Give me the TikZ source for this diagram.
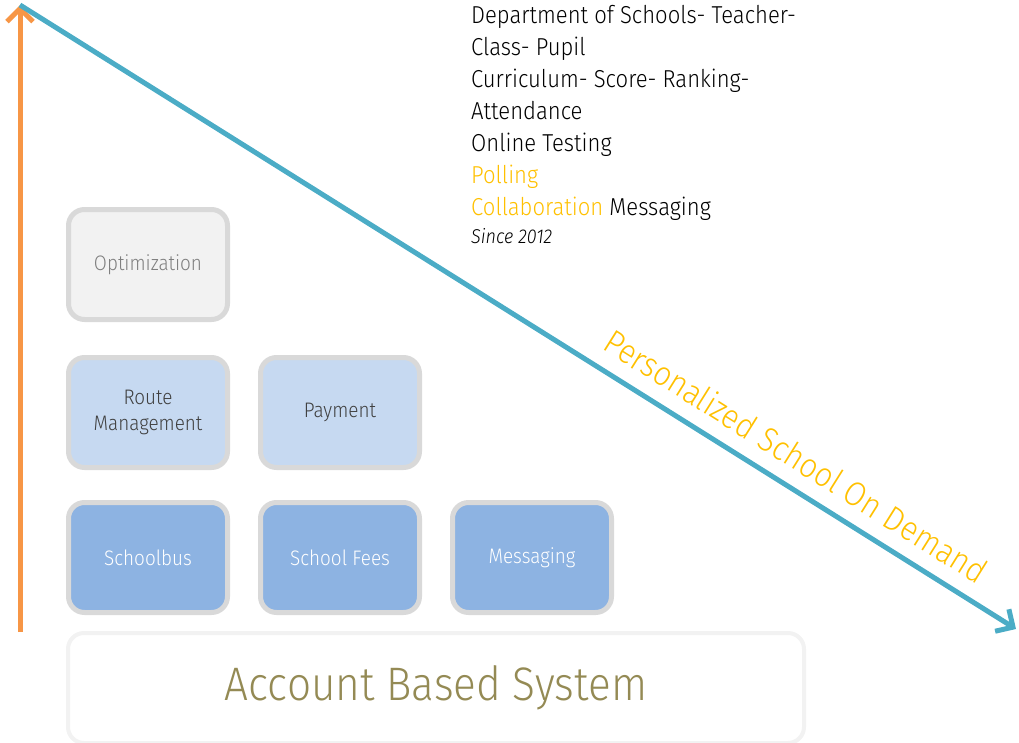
\documentclass[tikz,border=0pt]{standalone}
\usepackage{fontspec}
\setmainfont{Fira Sans}[UprightFont=* Light, ItalicFont=* Light Italic, FakeStretch=0.9]
\usetikzlibrary{arrows.meta}
\definecolor{orangeA}{HTML}{F79646}
\definecolor{blueA}{HTML}{4BACC6}
\definecolor{boxborder}{HTML}{D9D9D9}
\definecolor{optfill}{HTML}{F2F2F2}
\definecolor{lightblue}{HTML}{C6D9F1}
\definecolor{midblue}{HTML}{8DB3E2}
\definecolor{goldtxt}{HTML}{FFC000}
\definecolor{olivetxt}{HTML}{948A54}
\definecolor{darktxt}{HTML}{404040}
\definecolor{graytxt}{HTML}{7F7F7F}
\tikzset{
  tile/.style={draw=boxborder, line width=5pt, rounded corners=16pt,
    minimum width=159pt, minimum height=110pt, align=center,
    font=\fontsize{21}{24}\selectfont, inner sep=0pt},
  opttile/.style={tile, fill=optfill, text=graytxt},
  lighttile/.style={tile, fill=lightblue, text=darktxt},
  midtile/.style={tile, fill=midblue, text=white},
  bigarrow/.style={line width=5pt, -{Straight Barb[length=13pt, width=26pt, line width=5pt]}}
}
\begin{document}
\begin{tikzpicture}[x=1pt, y=-1pt]
\useasboundingbox (0,0) rectangle (1019,742);
% boxes
\node[opttile] (opt) at (148,264.5) {Optimization};
\node[lighttile] (route) at (148,412.5) {Route\\[2pt]Management};
\node[lighttile] (pay) at (340,412.5) {Payment};
\node[midtile] (bus) at (148,557.5) {Schoolbus};
\node[midtile] (fees) at (340,557.5) {School Fees};
\node[midtile] (msg) at (532,557.5) {Messaging};
\node[draw=optfill, fill=white, line width=4pt, rounded corners=16pt,
  minimum width=736pt, minimum height=110pt, inner sep=0pt,
  text=olivetxt, font=\fontsize{47}{51}\selectfont] (abs) at (436,688) {Account Based System};
% arrows
\coordinate (top) at (20,5);
\coordinate (obot) at (20,632);
\coordinate (bend) at (1016,629);
\draw[bigarrow, draw=orangeA] (obot) -- (top);
\begin{scope}[shift={(1.5,3)}]
\draw[line width=4pt, black, opacity=0.12] (top) -- ([xshift=-10pt,yshift=6pt]bend);
\end{scope}
\draw[bigarrow, draw=blueA] (top) -- (bend);
% label on the diagonal
\node[text=goldtxt, rotate=-32.1, font=\fontsize{34}{38}\selectfont, inner sep=0pt] (pers) at (796,456) {Personalized School On Demand};
% text block
\node[anchor=north west, align=left, inner sep=0pt, font=\fontsize{24.5}{32}\selectfont, text=black] (txt) at (471,5)
{Department of Schools- Teacher-\\
Class- Pupil\\
Curriculum- Score- Ranking-\\
Attendance\\
Online Testing\\
\textcolor{goldtxt}{Polling}\\
\textcolor{goldtxt}{Collaboration} Messaging\\[-4pt]
{\fontsize{20}{22}\selectfont\itshape Since 2012}};
\end{tikzpicture}
\end{document}
